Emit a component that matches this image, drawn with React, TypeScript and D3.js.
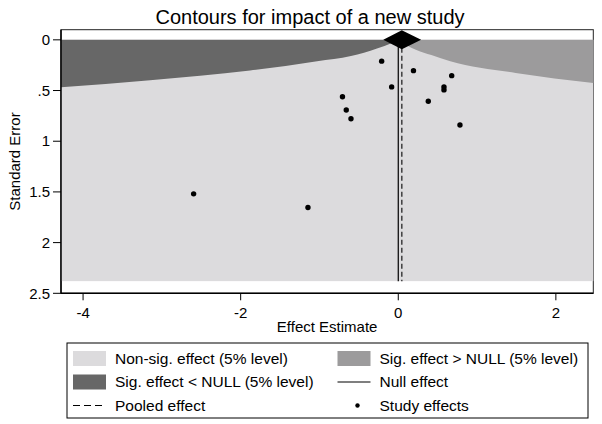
import React from "react";
import * as d3 from "d3";

const W = 602;
const H = 424;

// Axis ticks
const xTicks = [-4, -2, 0, 2];
const xTickLabels = ["-4", "-2", "0", "2"];
const yTicks = [0, 0.5, 1, 1.5, 2, 2.5];
const yTickLabels = ["0", ".5", "1", "1.5", "2", "2.5"];

// Contour boundaries: [effect, standard error]
const lowerBoundary: [number, number][] = [
  [-4.28, 0.467],
  [-3.15, 0.398],
  [-1.88, 0.303],
  [-1.03, 0.21],
  [-0.6, 0.16],
  [-0.27, 0.085],
  [-0.08, 0.03],
  [0, 0],
];
const upperBoundary: [number, number][] = [
  [0, 0],
  [0.1, 0.05],
  [0.23, 0.1],
  [0.42, 0.15],
  [0.66, 0.21],
  [1.49, 0.326],
  [2.475, 0.425],
];

// Study effects
const studyEffect = [-0.211, 0.193, -0.084, 0.678, 0.58, 0.58, -0.708, -0.66, -0.6, 0.381, 0.783, -2.597, -1.146];
const studySE = [0.21, 0.304, 0.464, 0.353, 0.464, 0.494, 0.561, 0.692, 0.778, 0.606, 0.84, 1.519, 1.653];

// Pooled effect and CI
const pooledEffect = 0.045;
const pooledLow = -0.19;
const pooledHigh = 0.29;
const nullEffect = 0;
const seMaxShaded = 2.38;

const xDomain: [number, number] = [-4.28, 2.475];
const yDomain: [number, number] = [-0.1, 2.5];

const legendLabels = [
  "Non-sig. effect (5% level)",
  "Sig. effect > NULL (5% level)",
  "Sig. effect < NULL (5% level)",
  "Null effect",
  "Pooled effect",
  "Study effects",
];

const C_LIGHT = "#dcdbdd";
const C_DARK = "#676767";
const C_MID = "#9c9b9c";
const FONT = "'Liberation Sans', Arial, sans-serif";

export default function App() {
  const left = 61, right = 593.3, top = 29.7, bottom = 293.3;
  const x = d3.scaleLinear().domain(xDomain).range([left, right]);
  const y = d3.scaleLinear().domain(yDomain).range([top, bottom]);

  const areaGen = d3
    .area<[number, number]>()
    .x((d) => x(d[0]))
    .y0(y(0))
    .y1((d) => y(d[1]))
    .curve(d3.curveMonotoneX);

  const dy = 9.5;
  const diamond = [
    [x(pooledLow), y(0)],
    [x(pooledEffect), y(0) - dy],
    [x(pooledHigh), y(0)],
    [x(pooledEffect), y(0) + dy],
  ]
    .map((p) => p.join(","))
    .join(" ");

  // legend layout
  const lx = 67, ly = 343, lw = 521, lh = 75;
  const col1 = 73, col2 = 337.5;
  const rows = [358.5, 382, 405.5];
  const sw = 33, sh = 15;
  const legendItems = [
    { col: col1, row: 0, kind: "rect", fill: C_LIGHT },
    { col: col2, row: 0, kind: "rect", fill: C_MID },
    { col: col1, row: 1, kind: "rect", fill: C_DARK },
    { col: col2, row: 1, kind: "line" },
    { col: col1, row: 2, kind: "dash" },
    { col: col2, row: 2, kind: "dot" },
  ];

  return (
    <svg width={W} height={H} style={{ display: "block", position: "absolute", left: 0, top: 0, background: "#fff" }} fontFamily={FONT}>
      <rect x={0} y={0} width={W} height={H} fill="#fff" />
      <text x={310} y={24} textAnchor="middle" fontSize={20} fill="#000">
        Contours for impact of a new study
      </text>

      {/* frame */}
      <rect x={left} y={top} width={right - left} height={bottom - top} fill="#fff" stroke="#222" strokeWidth={1} />

      {/* regions */}
      <rect x={left} y={y(0)} width={right - left} height={y(seMaxShaded) - y(0)} fill={C_LIGHT} />
      <path d={areaGen(lowerBoundary) || ""} fill={C_DARK} />
      <path d={areaGen(upperBoundary) || ""} fill={C_MID} />

      {/* null and pooled lines */}
      <line x1={x(nullEffect)} x2={x(nullEffect)} y1={y(0)} y2={y(seMaxShaded)} stroke="#000" strokeWidth={1.2} />
      <line x1={x(pooledEffect)} x2={x(pooledEffect)} y1={y(0)} y2={y(seMaxShaded)} stroke="#333" strokeWidth={1.4} strokeDasharray="5,3" />

      <polygon points={diamond} fill="#000" />

      {/* study points */}
      {studyEffect.map((e, i) => (
        <circle key={i} cx={x(e)} cy={y(studySE[i])} r={2.7} fill="#000" />
      ))}

      {/* axes */}
      <line x1={left} x2={left} y1={top} y2={bottom} stroke="#000" strokeWidth={1.5} />
      <line x1={left} x2={right} y1={bottom} y2={bottom} stroke="#000" strokeWidth={1.5} />
      {yTicks.map((t, i) => (
        <g key={"y" + i}>
          <line x1={left - 8} x2={left} y1={y(t)} y2={y(t)} stroke="#000" strokeWidth={1} />
          <text x={left - 11} y={y(t)} dy="0.35em" textAnchor="end" fontSize={15} fill="#000">
            {yTickLabels[i]}
          </text>
        </g>
      ))}
      {xTicks.map((t, i) => (
        <g key={"x" + i}>
          <line x1={x(t)} x2={x(t)} y1={bottom} y2={bottom + 7} stroke="#000" strokeWidth={1} />
          <text x={x(t)} y={318} textAnchor="middle" fontSize={15} fill="#000">
            {xTickLabels[i]}
          </text>
        </g>
      ))}
      <text x={(left + right) / 2} y={332} textAnchor="middle" fontSize={15} fill="#000">
        Effect Estimate
      </text>
      <text transform={`translate(20,${(top + bottom) / 2}) rotate(-90)`} textAnchor="middle" fontSize={15} fill="#000">
        Standard Error
      </text>

      {/* legend */}
      <rect x={lx} y={ly} width={lw} height={lh} fill="#fff" stroke="#000" strokeWidth={1} />
      {legendItems.map((it, i) => {
        const cy = rows[it.row];
        let sym: React.ReactNode = null;
        if (it.kind === "rect") sym = <rect x={it.col} y={cy - sh / 2} width={sw} height={sh} fill={it.fill} />;
        else if (it.kind === "line") sym = <line x1={it.col} x2={it.col + sw} y1={cy} y2={cy} stroke="#000" strokeWidth={1.2} />;
        else if (it.kind === "dash") sym = <line x1={it.col} x2={it.col + sw} y1={cy} y2={cy} stroke="#000" strokeWidth={1.2} strokeDasharray="7,4" />;
        else sym = <circle cx={it.col + 20} cy={cy} r={2.2} fill="#000" />;
        return (
          <g key={"l" + i}>
            {sym}
            <text x={it.col + 42} y={cy} dy="0.35em" fontSize={15.5} fill="#000">
              {legendLabels[i]}
            </text>
          </g>
        );
      })}
    </svg>
  );
}
